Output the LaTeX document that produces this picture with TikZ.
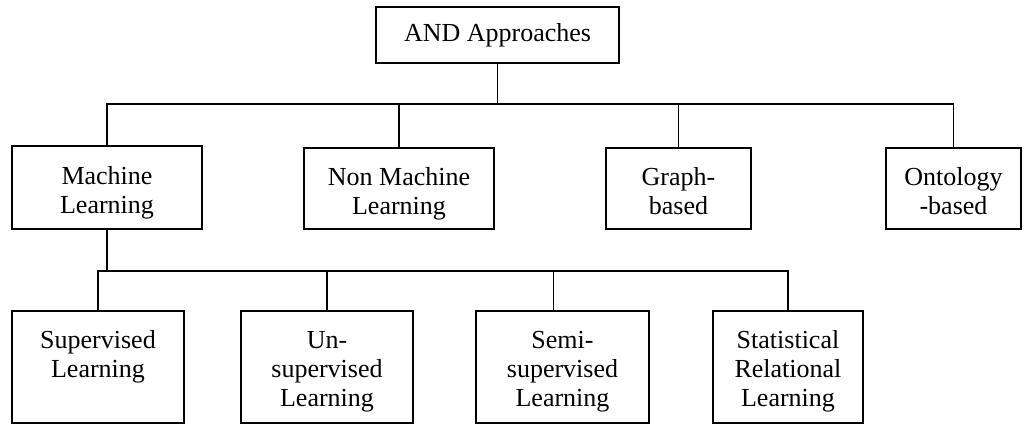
\documentclass[tikz,border=0pt]{standalone}
\usepackage{fontspec}
\setmainfont{Liberation Serif}
\usepackage{tikz}
\usetikzlibrary{positioning}

\begin{document}
\begin{tikzpicture}[x=1pt, y=-1pt, line width=1.3pt,
  every node/.style={draw, align=center, font=\fontsize{26}{29}\selectfont},
  midbox/.style={inner sep=0pt, minimum height=81pt, text height=66pt, text depth=15pt},
  leafbox/.style={inner sep=0pt, minimum height=112pt, text height=95pt, text depth=17pt}]
\useasboundingbox (0,0) rectangle (1032,425);
\node[minimum width=243pt, minimum height=56pt] (and) at (497.5,35) {AND Approaches};
\node[midbox, minimum width=190pt, minimum height=83pt] (ml) at (107,187.5) {Machine\\Learning};
\node[midbox, minimum width=190pt] (nml) at (399,188.5) {Non Machine\\Learning};
\node[midbox, minimum width=145pt] (graph) at (678.5,188.5) {Graph-\\based};
\node[midbox, minimum width=135pt] (onto) at (953.5,188.5) {Ontology\\-based};
\node[leafbox, minimum width=172pt, text height=66pt, text depth=46pt] (sup) at (98,367) {Supervised\\Learning};
\node[leafbox, minimum width=172pt] (unsup) at (327,367) {Un-\\supervised\\Learning};
\node[leafbox, minimum width=173pt] (semi) at (562.5,367) {Semi-\\supervised\\Learning};
\node[leafbox, minimum width=150pt] (srl) at (788,367) {Statistical\\Relational\\Learning};
\coordinate (bus1) at (0,104);
\coordinate (bus2) at (0,271);
% first level
\draw (and.south) -- (and.south |- bus1);
\draw (ml.north) -- (ml.north |- bus1) -| (onto.north);
\draw (nml.north) -- (nml.north |- bus1);
\draw (graph.north) -- (graph.north |- bus1);
% machine learning
\draw (ml.south) -- (ml.south |- bus2);
\draw (sup.north) -- (sup.north |- bus2) -| (srl.north);
\draw (unsup.north) -- (unsup.north |- bus2);
\draw ([xshift=-9pt]semi.north) -- ([xshift=-9pt]semi.north |- bus2);
\end{tikzpicture}
\end{document}
